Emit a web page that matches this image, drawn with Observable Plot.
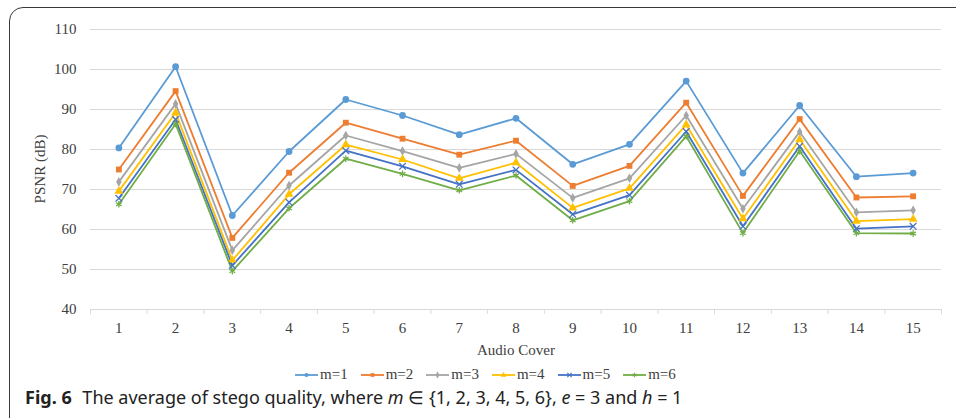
<!DOCTYPE html>
<html>
<head>
<meta charset="utf-8">
<script src="https://cdn.jsdelivr.net/npm/d3@7"></script>
<script src="https://cdn.jsdelivr.net/npm/@observablehq/plot@0.6"></script>
<style>
  html, body { margin: 0; padding: 0; background: #fff; }
  body { width: 956px; height: 418px; overflow: hidden; position: relative; font-family: "Liberation Serif", serif; }
  #frame { position: absolute; left: 9px; top: 7px; width: 1000px; height: 430px; border: 1.5px solid #3a3a3a; border-radius: 14px; box-sizing: border-box; }
  #chart { position: absolute; left: 0; top: 0; }
  .axtitle { position: absolute; font-family: "Liberation Serif", serif; font-size: 15px; color: #404040; white-space: nowrap; }
  #ylabel { left: 40px; top: 169px; transform: translate(-50%, -50%) rotate(-90deg); }
  #xlabel { left: 516px; top: 350px; transform: translate(-50%, -50%); }
  #legend { position: absolute; top: 366px; left: 295px; display: flex; align-items: center; font-family: "Liberation Serif", serif; font-size: 15px; color: #404040; }
  .item { display: flex; align-items: center; margin-right: 13px; }
  .item svg { margin-right: 2px; }
  #caption { position: absolute; left: 25px; top: 385px; font-family: "Noto Sans", sans-serif; font-size: 18px; color: #222; white-space: nowrap; }
  #caption b { font-weight: 700; margin-right: 6px; }
</style>
</head>
<body>
<div id="frame"></div>
<div id="chart"></div>
<div class="axtitle" id="ylabel">PSNR (dB)</div>
<div class="axtitle" id="xlabel">Audio Cover</div>
<div id="legend"></div>
<div id="caption"><b>Fig. 6</b> The average of stego quality, where <i>m</i> ∈ {1, 2, 3, 4, 5, 6}, <i>e</i> = 3 and <i>h</i> = 1</div>
<script>
const covers = [1, 2, 3, 4, 5, 6, 7, 8, 9, 10, 11, 12, 13, 14, 15];
const seriesNames = ["m=1", "m=2", "m=3", "m=4", "m=5", "m=6"];
const m1 = [80.4, 100.7, 63.5, 79.5, 92.5, 88.5, 83.7, 87.8, 76.3, 81.3, 97.1, 74.1, 91.0, 73.2, 74.1];
const m2 = [75.0, 94.6, 57.9, 74.2, 86.7, 82.7, 78.7, 82.2, 70.9, 75.9, 91.7, 68.4, 87.6, 68.0, 68.3];
const m3 = [71.9, 91.4, 54.8, 71.0, 83.5, 79.6, 75.4, 78.9, 67.9, 72.8, 88.5, 65.2, 84.4, 64.3, 64.8];
const m4 = [69.6, 89.2, 52.3, 68.8, 81.2, 77.5, 72.8, 76.7, 65.4, 70.3, 86.2, 62.7, 82.5, 62.1, 62.6];
const m5 = [67.8, 87.5, 51.0, 66.8, 79.7, 75.8, 71.3, 74.9, 63.8, 68.6, 84.5, 60.8, 80.8, 60.2, 60.8];
const m6 = [66.3, 86.4, 49.6, 65.3, 77.7, 73.9, 69.8, 73.5, 62.3, 67.1, 83.3, 59.1, 79.6, 59.1, 59.0];
const yTicks = [40, 50, 60, 70, 80, 90, 100, 110];

const colors = ["#5B9BD5", "#ED7D31", "#A5A5A5", "#FFC000", "#4472C4", "#70AD47"];
const symbols = ["circle", "square", "diamond", "triangle", "times", "asterisk"];
const sizes = [3.4, 3.3, 2.9, 3.3, 3.1, 3.1];
const allSeries = [m1, m2, m3, m4, m5, m6];

const data = [];
allSeries.forEach((vals, i) => {
  vals.forEach((v, j) => data.push({series: seriesNames[i], idx: i, cover: covers[j], psnr: v}));
});
const edges = d3.range(covers.length + 1).map(k => covers[0] - 0.5 + k);

const filled = data.filter(d => d.idx < 4);
const stroked = data.filter(d => d.idx >= 4);

const chart = Plot.plot({
  width: 956,
  height: 360,
  marginTop: 29,
  marginBottom: 51,
  marginLeft: 90,
  marginRight: 15,
  style: { background: "transparent", fontFamily: "Liberation Serif, serif", fontSize: "15px", color: "#404040" },
  x: { domain: [covers[0] - 0.5, covers[covers.length - 1] + 0.5] },
  y: { domain: [yTicks[0], yTicks[yTicks.length - 1]] },
  marks: [
    Plot.ruleY(yTicks, { stroke: "#d9d9d9", strokeWidth: 1.2 }),
    Plot.axisY({ ticks: yTicks, tickSize: 0, tickPadding: 14, label: null, fontSize: 15, fill: "#404040" }),
    Plot.axisX({ ticks: covers, tickSize: 0, tickPadding: 13, label: null, fontSize: 15, fill: "#404040" }),
    Plot.axisX({ ticks: edges, tickSize: 5, tickFormat: () => "", label: null, stroke: "#d9d9d9" }),
    Plot.line(data, { x: "cover", y: "psnr", z: "series", stroke: d => colors[d.idx], strokeWidth: 1.8 }),
    ...[0, 1, 2, 3].map(i => Plot.dot(filled.filter(d => d.idx === i), { x: "cover", y: "psnr", symbol: () => symbols[i], r: sizes[i], fill: colors[i], stroke: "none" })),
    ...[4, 5].map(i => Plot.dot(stroked.filter(d => d.idx === i), { x: "cover", y: "psnr", symbol: () => symbols[i], r: sizes[i], stroke: colors[i], strokeWidth: 1.3, fill: "none" }))
  ]
});
document.getElementById("chart").appendChild(chart);

// legend
const legend = d3.select("#legend");
seriesNames.forEach((name, i) => {
  const item = legend.append("div").attr("class", "item");
  const svg = item.append("svg").attr("width", 23).attr("height", 12);
  svg.append("line").attr("x1", 0).attr("x2", 23).attr("y1", 6).attr("y2", 6).attr("stroke", colors[i]).attr("stroke-width", 1.8);
  const symType = [d3.symbolCircle, d3.symbolSquare, d3.symbolDiamond, d3.symbolTriangle, d3.symbolTimes, d3.symbolAsterisk][i];
  const p = svg.append("path").attr("transform", "translate(11.5,6)").attr("d", d3.symbol(symType, 14)());
  if (i < 4) p.attr("fill", colors[i]); else p.attr("fill", "none").attr("stroke", colors[i]).attr("stroke-width", 1.1);
  item.append("span").text(name);
});
</script>
</body>
</html>
